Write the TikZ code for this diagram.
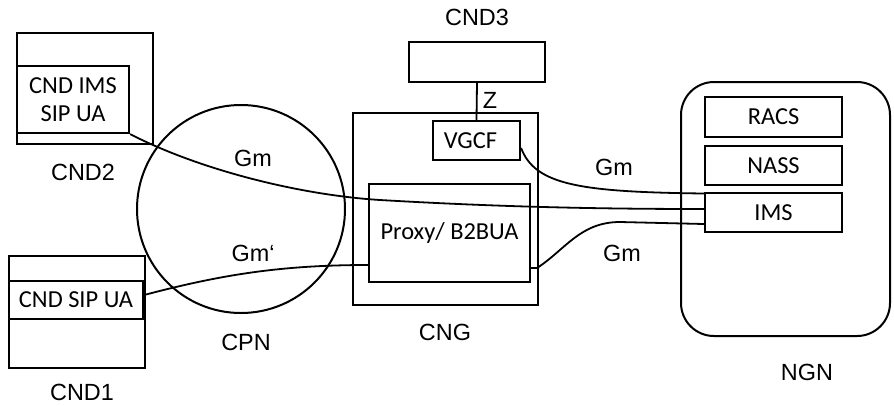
\documentclass[tikz,border=0pt]{standalone}
\usepackage{fontspec}
\setmainfont{Liberation Sans}
\newfontfamily\boxfont{Carlito}
\begin{document}
\begin{tikzpicture}[x=1bp,y=-1bp,
  box/.style={draw,line width=2.2bp,inner sep=0pt,font=\boxfont\fontsize{24.5}{28}\selectfont,align=center},
  lbl/.style={font=\fontsize{23.5}{27}\selectfont,inner sep=0pt},
  conn/.style={line width=1.8bp}]
\useasboundingbox (0,0) rectangle (894,405);
% CND2
\node[box,minimum width=136bp,minimum height=111bp] (cnd2) at (85,88.5) {};
\node[box,minimum width=112bp,minimum height=67bp] (cnd2in) at (73,99.5) {CND IMS\\SIP UA};
\node[lbl] (cnd2lbl) at (83,172) {CND2};
% CND1
\node[box,minimum width=136bp,minimum height=112bp] (cnd1) at (77,312) {};
\node[box,minimum width=134bp,minimum height=38bp] (cnd1in) at (76,300) {CND SIP UA};
\node[lbl] (cnd1lbl) at (82,392) {CND1};
% CPN
\node[draw,circle,line width=2bp,minimum size=208bp,inner sep=0pt] (cpn) at (241,209) {};
\node[lbl] (cpnlbl) at (246,342) {CPN};
% CNG
\node[box,minimum width=185bp,minimum height=192bp] (cng) at (445.5,209) {};
\node[box,minimum width=87bp,minimum height=39bp] (vgcf) at (476.5,140.5) {\hspace*{-12bp}VGCF};
\node[box,minimum width=161bp,minimum height=98bp] (proxy) at (449.5,233) {Proxy/ B2BUA};
\node[lbl] (cnglbl) at (445,332) {CNG};
% CND3
\node[box,minimum width=136bp,minimum height=40bp] (cnd3) at (477,62) {};
\node[lbl] (cnd3lbl) at (477,17) {CND3};
\draw[conn] (cnd3.south) -- (vgcf.north);
\node[lbl] (z) at (490,100) {Z};
% NGN
\node[draw,line width=2bp,rounded corners=33bp,minimum width=209bp,minimum height=254bp,inner sep=0pt] (ngn) at (785.5,209) {};
\node[box,minimum width=137bp,minimum height=40bp] (racs) at (773.5,117) {RACS};
\node[box,minimum width=137bp,minimum height=39bp] (nass) at (773.5,165.5) {NASS};
\node[box,minimum width=137bp,minimum height=39bp] (ims) at (773.5,212.5) {IMS};
\node[lbl] (ngnlbl) at (807,372) {NGN};
% connectors
\draw[conn] (cnd2in.south east) .. controls (200,170) and (300,195) .. (380,200)
  .. controls (500,207) and (600,209) .. ([yshift=3.5bp]ims.west);
\draw[conn] ([yshift=5bp]cnd1in.east) .. controls (220,275) and (280,265) .. ([yshift=-32bp]proxy.west);
\draw[conn] ([yshift=-7.5bp]vgcf.east) .. controls (535,185) and (580,192) .. ([yshift=19bp]ims.west);
\draw[conn] ([yshift=-35bp]proxy.east) -- (537,268) .. controls (565,250) and (580,222) .. (620,222) -- ([yshift=-11.5bp]ims.west);
% labels
\node[lbl] (gm1) at (253,158) {Gm};
\node[lbl] (gm2) at (253,253) {Gm‘};
\node[lbl] (gm3) at (614,167) {Gm};
\node[lbl] (gm4) at (622,253) {Gm};
\end{tikzpicture}
\end{document}
